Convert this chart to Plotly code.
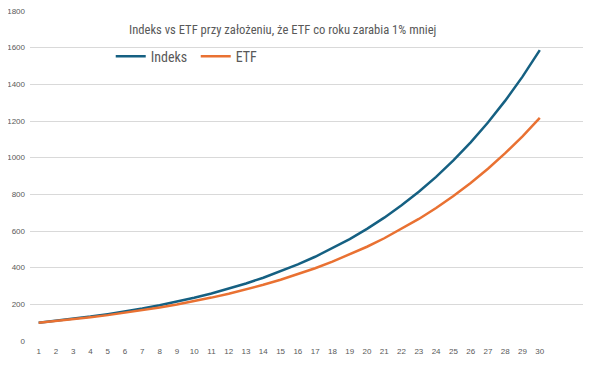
import plotly.graph_objects as go

years = list(range(1, 31))
indeks = [100, 110, 121, 133.1, 146.41, 161.05, 177.16, 194.87, 214.36, 235.79,
          259.37, 285.31, 313.84, 345.23, 379.75, 417.72, 459.5, 505.45, 555.99, 611.59,
          672.75, 740.02, 814.03, 895.43, 984.97, 1083.47, 1191.82, 1311.0, 1442.1, 1586.31]
etf = [100, 109, 118.81, 129.5, 141.16, 153.86, 167.71, 182.8, 199.26, 217.19,
       236.74, 258.04, 281.27, 306.58, 334.17, 364.25, 397.03, 432.76, 471.71, 514.17,
       560.44, 610.88, 665.86, 725.79, 791.11, 862.31, 939.92, 1024.5, 1116.71, 1217.22]
y_ticks = [0, 200, 400, 600, 800, 1000, 1200, 1400, 1600, 1800]

title_text = "Indeks vs ETF przy założeniu, że ETF co roku zarabia 1% mniej"
narrow = "Liberation Sans Narrow, Arial Narrow, Roboto Condensed, Roboto, sans-serif"

fig = go.Figure()
fig.add_trace(go.Scatter(x=years, y=indeks, mode="lines", name="Indeks",
                         line=dict(color="#156082", width=2.5)))
fig.add_trace(go.Scatter(x=years, y=etf, mode="lines", name="ETF",
                         line=dict(color="#E97132", width=2.5)))

# page body has an 8px margin, so the figure is placed at (8, 8)
fig.update_layout(
    width=597, height=357,
    margin=dict(l=22, r=22, t=3, b=24),
    paper_bgcolor="white", plot_bgcolor="white",
    font=dict(family="Liberation Sans, Arial, sans-serif", color="#595959"),
    showlegend=True,
    legend=dict(orientation="h", x=0.146, y=0.862, xanchor="left", yanchor="middle",
                font=dict(size=14, color="#595959", family=narrow),
                bgcolor="rgba(0,0,0,0)", entrywidth=40, entrywidthmode="pixels",
                itemwidth=30),
    annotations=[dict(text=title_text, x=0.457, y=0.943, xref="paper", yref="paper",
                      xanchor="center", yanchor="middle", showarrow=False,
                      font=dict(size=12.6, color="#595959", family=narrow))],
)
fig.update_xaxes(range=[0.5, 32.5], tickvals=years, ticktext=[str(v) for v in years],
                 showgrid=False, zeroline=False, showline=False, automargin=False,
                 tickfont=dict(size=8, color="#595959"), ticks="",
                 ticklabelstandoff=4, ticklabeloverflow="allow")
fig.update_yaxes(range=[0, 1800], tickvals=y_ticks, showgrid=True, gridcolor="#D9D9D9",
                 gridwidth=1, zeroline=False, showline=False, automargin=False,
                 tickfont=dict(size=8, color="#595959"), ticks="",
                 ticklabelstandoff=4, ticklabeloverflow="allow")

fig.write_html("out.html")
